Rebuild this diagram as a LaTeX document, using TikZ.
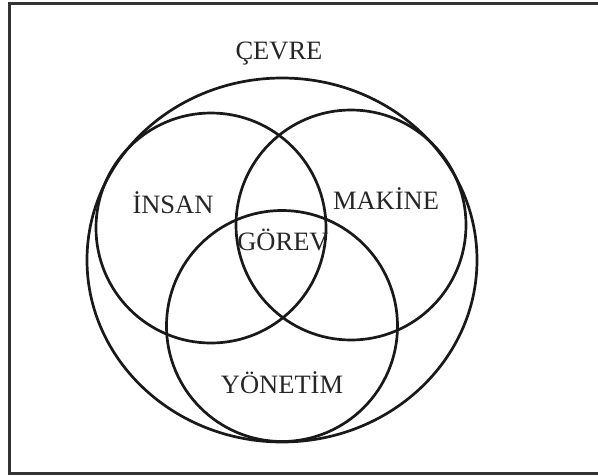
\documentclass[tikz,border=0pt]{standalone}
\usepackage{fontspec}
\setmainfont{Liberation Serif}
\usetikzlibrary{positioning}

\tikzset{
  ring/.style={line width=2.7pt, black!90},
  lbl/.style={font=\fontsize{26.5}{28}\selectfont, text=black!85, inner sep=0pt}
}

\begin{document}
\begin{tikzpicture}[x=1pt, y=-1pt]
  \useasboundingbox (0,0) rectangle (598,475);
  % frame
  \draw[line width=2.4pt, black!80] (599,3.5) -- (9.5,3.5) -- (9.5,473.5) -- (599,473.5);
  % environment
  \draw[ring] (282,260) ellipse [x radius=195, y radius=182];
  % three sets
  \draw[ring] (211,228) circle [radius=115];
  \draw[ring] (351,225) circle [radius=115];
  \draw[ring] (282,326) circle [radius=115.5];
  % labels
  \node[lbl] (cevre) at (279,54) {ÇEVRE};
  \node[lbl] (insan) at (173,203) {İNSAN};
  \node[lbl] (makine) at (386,199) {MAKİNE};
  \node[lbl] (gorev) at (283,240) {GÖREV};
  \node[lbl] (yonetim) at (282,383) {YÖNETİM};
\end{tikzpicture}
\end{document}
